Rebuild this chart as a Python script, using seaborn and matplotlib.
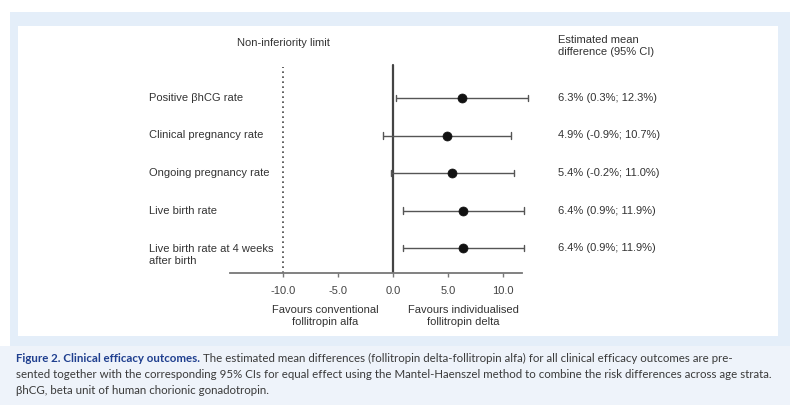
import matplotlib
matplotlib.use("Agg")
import matplotlib.pyplot as plt
from matplotlib.patches import Rectangle
import seaborn as sns
import pandas as pd

# Outcomes and estimated mean differences (follitropin delta - follitropin alfa), %
outcomes = [
    "Positive βhCG rate",
    "Clinical pregnancy rate",
    "Ongoing pregnancy rate",
    "Live birth rate",
    "Live birth rate at 4 weeks\nafter birth",
]
estimates = [6.3, 4.9, 5.4, 6.4, 6.4]
ci_low = [0.3, -0.9, -0.2, 0.9, 0.9]
ci_high = [12.3, 10.7, 11.0, 11.9, 11.9]
x_ticks = [-10.0, -5.0, 0.0, 5.0, 10.0]
ni_limit = -10.0

df = pd.DataFrame({"outcome": outcomes, "row": range(len(outcomes)),
                   "est": estimates, "lo": ci_low, "hi": ci_high})

sns.set_theme(style="white")
chart_font = ["Liberation Sans", "DejaVu Sans"]
plt.rcParams["font.family"] = chart_font

W, H = 790, 405
fig = plt.figure(figsize=(W / 100, H / 100), dpi=100)
fig.patch.set_facecolor("white")

def px_rect(x0, y0, x1, y1, color, z=0):
    fig.patches.append(Rectangle((x0 / W, 1 - y1 / H), (x1 - x0) / W, (y1 - y0) / H,
                                 transform=fig.transFigure, facecolor=color,
                                 edgecolor="none", zorder=z))

# framed panel and caption band
px_rect(10, 12, 790, 346, "#e4eef9", 0)
px_rect(18, 26, 778, 336, "#ffffff", 1)
px_rect(0, 346, 790, 405, "#eef3fa", 0)

# axes placement in pixels
ax_l, ax_r, ax_t, ax_b = 230, 522, 60, 273
ax = fig.add_axes([ax_l / W, 1 - ax_b / H, (ax_r - ax_l) / W, (ax_b - ax_t) / H])
ax.set_facecolor("none")
ax.set_zorder(3)

ppu = 11.0  # pixels per percentage point
x0px = 393
ax.set_xlim((ax_l - x0px) / ppu, (ax_r - x0px) / ppu)
row_px0, row_step = 98, 37.5
ax.set_ylim((ax_b - row_px0) / row_step, (ax_t - row_px0) / row_step)

line_col = "#555555"
ax.hlines(df["row"], df["lo"], df["hi"], color=line_col, lw=1.0, zorder=2, clip_on=False)
for _, r in df.iterrows():
    for end in (r["lo"], r["hi"]):
        ax.plot([end, end], [r["row"] - 0.09, r["row"] + 0.09], color=line_col, lw=1.0,
                clip_on=False)
sns.scatterplot(data=df, x="est", y="row", ax=ax, color="#111111", s=42,
                edgecolor="#111111", zorder=4, legend=False, clip_on=False)

ax.axvline(0, ymin=0, ymax=(ax_b - 65) / (ax_b - ax_t), color="#444444", lw=1.6, zorder=1)
ax.axvline(ni_limit, ymin=0, ymax=(ax_b - 67) / (ax_b - ax_t), color="#444444",
           lw=1.2, ls=(0, (1, 2)), zorder=1)

for s in ["top", "right", "left"]:
    ax.spines[s].set_visible(False)
ax.spines["bottom"].set_color("#777777")
ax.spines["bottom"].set_linewidth(1.3)
ax.set_yticks([])
ax.set_xticks(x_ticks)
fs = 8.0
ax.set_xticklabels([f"{t:.1f}" for t in x_ticks], fontsize=fs, color="#444444",
                   family=chart_font)
ax.tick_params(axis="x", direction="out", length=3, width=1, color="#777777", pad=6,
               bottom=True)
ax.set_xlabel("")
ax.set_ylabel("")

txt_col = "#333333"
lab_x = (149 - x0px) / ppu
for _, r in df.iterrows():
    yy = r["row"] + (0.18 if "\n" in r["outcome"] else 0)
    ax.text(lab_x, yy, r["outcome"], ha="left", va="center", fontsize=fs,
            color=txt_col, clip_on=False, linespacing=1.25, family=chart_font)
    ax.text((558 - x0px) / ppu, r["row"],
            f"{r['est']:.1f}% ({r['lo']:.1f}%; {r['hi']:.1f}%)",
            ha="left", va="center", fontsize=fs, color=txt_col, clip_on=False,
            family=chart_font)

ax.text((558 - x0px) / ppu, (46 - row_px0) / row_step,
        "Estimated mean\ndifference (95% CI)", ha="left", va="center", fontsize=fs,
        color=txt_col, clip_on=False, linespacing=1.25, family=chart_font)
ax.text(ni_limit, (43 - row_px0) / row_step, "Non-inferiority limit", ha="center",
        va="center", fontsize=fs, color=txt_col, clip_on=False, family=chart_font)

ax.text((325 - x0px) / ppu, (316 - row_px0) / row_step,
        "Favours conventional\nfollitropin alfa", ha="center", va="center", fontsize=fs,
        color=txt_col, clip_on=False, linespacing=1.25, family=chart_font)
ax.text((463 - x0px) / ppu, (316 - row_px0) / row_step,
        "Favours individualised\nfollitropin delta", ha="center", va="center", fontsize=fs,
        color=txt_col, clip_on=False, linespacing=1.25, family=chart_font)

# caption
cap_font = ["Lato", "DejaVu Sans"]
cap_fs = 8.3
cap_blue = "#1f3f8f"
cap_grey = "#3a3a3a"
cx = 16 / W
y1 = 1 - 358 / H
bold = fig.text(cx, y1, "Figure 2. Clinical efficacy outcomes.", fontsize=cap_fs,
                family=cap_font, weight="bold", color=cap_blue, va="center", ha="left",
                zorder=5)
fig.canvas.draw()
bb = bold.get_window_extent(fig.canvas.get_renderer())
fig.text(bb.x1 / fig.bbox.width + 3 / W, y1,
         "The estimated mean differences (follitropin delta-follitropin alfa) for all "
         "clinical efficacy outcomes are pre-",
         fontsize=cap_fs, family=cap_font, color=cap_grey, va="center", ha="left", zorder=5)
fig.text(cx, 1 - 374 / H,
         "sented together with the corresponding 95% CIs for equal effect using the "
         "Mantel-Haenszel method to combine the risk differences across age strata.",
         fontsize=cap_fs, family=cap_font, color=cap_grey, va="center", ha="left", zorder=5)
fig.text(cx, 1 - 390 / H, "βhCG, beta unit of human chorionic gonadotropin.",
         fontsize=cap_fs, family=cap_font, color=cap_grey, va="center", ha="left", zorder=5)

fig.savefig("out.png", dpi=100, facecolor=fig.get_facecolor())
